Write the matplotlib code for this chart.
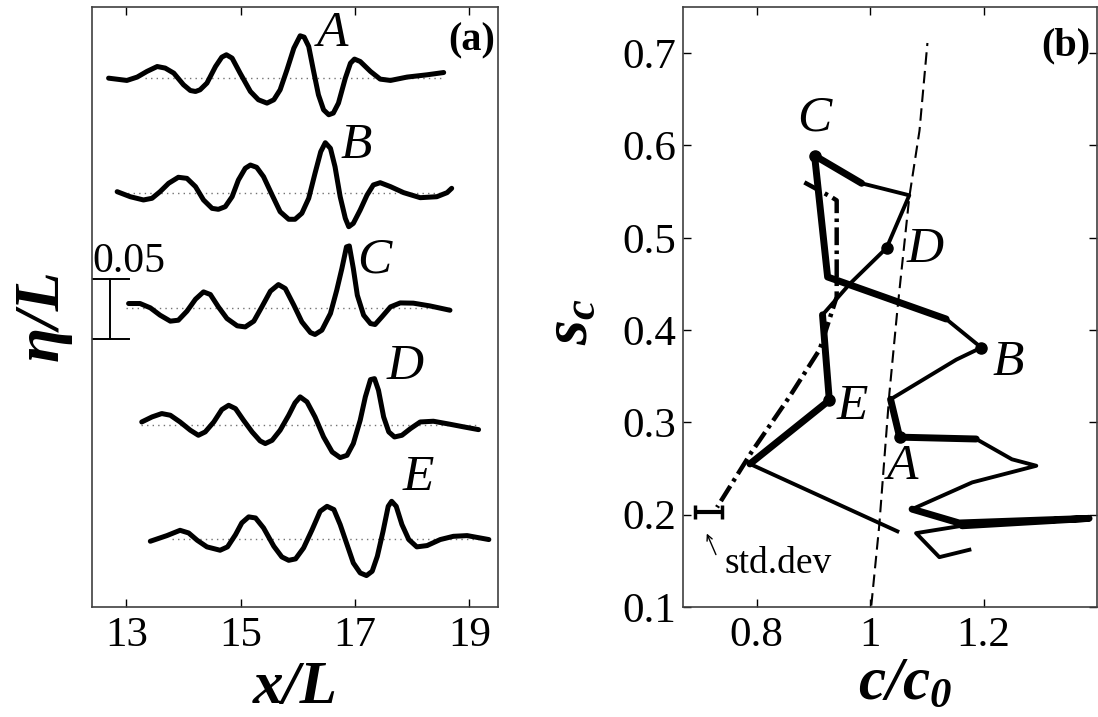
import matplotlib
matplotlib.use("Agg")
import matplotlib.pyplot as plt

plt.rcParams['font.family'] = ['Liberation Serif', 'DejaVu Serif']
plt.rcParams['mathtext.fontset'] = 'custom'
plt.rcParams['mathtext.rm'] = 'Liberation Serif'
plt.rcParams['mathtext.it'] = 'Liberation Serif:italic'
plt.rcParams['mathtext.bf'] = 'Liberation Serif:bold'
plt.rcParams['mathtext.bfit'] = 'Liberation Serif:italic:bold'

# ---- panel (a): wave profiles, eta/L vs x/L, stacked with offsets ----
a_x = [12.69, 13.01, 13.19, 13.36, 13.54, 13.68, 13.83, 14.00, 14.12, 14.21, 14.29, 14.41, 14.56,
       14.67, 14.75, 14.85, 14.99, 15.17, 15.31, 15.46, 15.58, 15.69, 15.81, 15.93, 16.04, 16.11,
       16.19, 16.27, 16.36, 16.45, 16.54, 16.62, 16.71, 16.83, 16.92, 16.99, 17.09, 17.27, 17.44,
       17.62, 17.91, 18.26, 18.55]
a_eta = [-0.0003, -0.0022, 0.0006, 0.0053, 0.0094, 0.0081, 0.0039, -0.0058, -0.0106, -0.0114,
         -0.0100, -0.0044, 0.0094, 0.0172, 0.0192, 0.0164, 0.0039, -0.0114, -0.0183, -0.0211,
         -0.0183, -0.0100, 0.0067, 0.0247, 0.0350, 0.0339, 0.0261, 0.0067, -0.0142, -0.0267,
         -0.0308, -0.0294, -0.0211, -0.0003, 0.0122, 0.0156, 0.0136, 0.0053, -0.0011, -0.0022,
         0.0006, 0.0025, 0.0044]

b_x = [12.84, 13.07, 13.30, 13.45, 13.59, 13.74, 13.91, 14.06, 14.21, 14.35, 14.50, 14.61, 14.73,
       14.85, 14.96, 15.08, 15.17, 15.28, 15.40, 15.55, 15.69, 15.84, 15.95, 16.07, 16.19, 16.30,
       16.40, 16.48, 16.57, 16.65, 16.74, 16.83, 16.89, 16.97, 17.09, 17.21, 17.32, 17.44, 17.62,
       17.85, 18.14, 18.43, 18.61, 18.69]
b_eta = [0.0011, -0.0031, -0.0058, -0.0044, 0.0011, 0.0081, 0.0131, 0.0122, 0.0053, -0.0058,
         -0.0128, -0.0136, -0.0114, -0.0031, 0.0108, 0.0206, 0.0233, 0.0214, 0.0136, -0.0017,
         -0.0156, -0.0219, -0.0219, -0.0169, -0.0044, 0.0164, 0.0344, 0.0419, 0.0372, 0.0219,
         -0.0031, -0.0211, -0.0281, -0.0253, -0.0142, -0.0017, 0.0067, 0.0086, 0.0053, 0.0003,
         -0.0039, -0.0031, 0.0003, 0.0039]

c_x = [13.04, 13.24, 13.42, 13.59, 13.77, 13.91, 14.06, 14.21, 14.35, 14.47, 14.61, 14.76, 14.94,
       15.08, 15.23, 15.37, 15.52, 15.66, 15.78, 15.93, 16.07, 16.22, 16.30, 16.42, 16.57, 16.68,
       16.77, 16.85, 16.90, 16.97, 17.04, 17.15, 17.27, 17.35, 17.47, 17.62, 17.79, 18.02, 18.31,
       18.66]
c_eta = [0.0039, 0.0039, 0.0003, -0.0058, -0.0108, -0.0100, -0.0025, 0.0075, 0.0136, 0.0114,
         0.0011, -0.0086, -0.0147, -0.0156, -0.0108, 0.0011, 0.0142, 0.0197, 0.0164, 0.0025,
         -0.0114, -0.0203, -0.0219, -0.0183, -0.0044, 0.0150, 0.0331, 0.0511, 0.0519, 0.0331,
         0.0108, -0.0058, -0.0128, -0.0136, -0.0072, 0.0011, 0.0044, 0.0042, 0.0019, -0.0017]

d_x = [13.27, 13.45, 13.62, 13.77, 13.94, 14.12, 14.26, 14.38, 14.53, 14.67, 14.79, 14.91, 15.05,
       15.20, 15.34, 15.43, 15.55, 15.69, 15.84, 15.95, 16.04, 16.16, 16.30, 16.45, 16.60, 16.74,
       16.86, 16.97, 17.09, 17.18, 17.27, 17.34, 17.41, 17.50, 17.59, 17.69, 17.82, 17.97, 18.14,
       18.37, 18.66, 18.90, 19.16]
d_eta = [0.0022, 0.0064, 0.0092, 0.0078, 0.0022, -0.0047, -0.0089, -0.0061, 0.0022, 0.0125,
         0.0161, 0.0133, 0.0036, -0.0061, -0.0136, -0.0158, -0.0131, -0.0047, 0.0078, 0.0181,
         0.0231, 0.0189, 0.0064, -0.0103, -0.0228, -0.0275, -0.0256, -0.0158, 0.0036, 0.0231,
         0.0375, 0.0383, 0.0286, 0.0064, -0.0061, -0.0103, -0.0089, -0.0033, 0.0022, 0.0028,
         0.0003, -0.0019, -0.0042]

e_x = [13.42, 13.71, 13.94, 14.09, 14.24, 14.41, 14.64, 14.77, 14.91, 15.02, 15.14, 15.26, 15.40,
       15.58, 15.72, 15.84, 15.96, 16.10, 16.25, 16.39, 16.51, 16.63, 16.74, 16.86, 16.97, 17.09,
       17.20, 17.30, 17.39, 17.49, 17.58, 17.64, 17.72, 17.82, 17.94, 18.08, 18.26, 18.49, 18.72,
       18.96, 19.34]
e_eta = [-0.0022, 0.0025, 0.0069, 0.0047, -0.0014, -0.0069, -0.0097, -0.0069, 0.0033, 0.0131,
         0.0181, 0.0172, 0.0089, -0.0064, -0.0153, -0.0181, -0.0169, -0.0078, 0.0075, 0.0228,
         0.0269, 0.0242, 0.0117, -0.0050, -0.0203, -0.0286, -0.0308, -0.0272, -0.0147, 0.0061,
         0.0269, 0.0311, 0.0269, 0.0117, -0.0008, -0.0069, -0.0058, -0.0008, 0.0019, 0.0025,
         -0.0008]

wave_names = ['A', 'B', 'C', 'D', 'E']
wave_offsets = [0.441, 0.345, 0.249, 0.152, 0.057]
baseline_start = [13.33, 12.93, 13.00, 13.26, 13.80]
baseline_end = [18.54, 18.49, 18.66, 19.15, 19.30]
name_x = [16.34, 16.74, 17.04, 17.56, 17.83]
name_y = [0.4775, 0.384, 0.289, 0.200, 0.1075]

# ---- panel (b): s_c vs c/c0 ----
path_c = [1.175, 1.122, 1.081, 1.162, 1.386, 1.157, 1.074, 1.180, 1.293, 1.250, 1.187, 1.052, 1.036,
          1.152, 1.196, 1.134, 0.925, 0.902, 0.985, 1.069, 1.029, 0.964, 0.916, 0.928, 0.788, 1.048]
path_s = [0.162, 0.154, 0.180, 0.188, 0.196, 0.191, 0.206, 0.235, 0.253, 0.260, 0.282, 0.284, 0.325,
          0.368, 0.381, 0.412, 0.4575, 0.589, 0.559, 0.546, 0.489, 0.450, 0.4165, 0.324, 0.255, 0.182]
thick_parts = [(3, 6), (10, 12), (15, 18), (22, 24)]

dot_c = [1.052, 1.196, 0.902, 1.029, 0.928]
dot_s = [0.284, 0.381, 0.589, 0.489, 0.324]
dot_lab_c = [1.030, 1.215, 0.902, 1.064, 0.941]
dot_lab_s = [0.2515, 0.365, 0.629, 0.487, 0.317]
dot_lab_ha = ['left', 'left', 'center', 'left', 'left']

lin_c = [1.002, 1.016, 1.034, 1.048, 1.069, 1.087, 1.101]
lin_s = [0.1015, 0.188, 0.332, 0.422, 0.544, 0.616, 0.711]

dd_c = [0.884, 0.932, 0.941, 0.941, 0.911, 0.858, 0.791, 0.730]
dd_s = [0.560, 0.544, 0.5405, 0.436, 0.379, 0.328, 0.268, 0.208]

std_c, std_s, std_err = 0.715, 0.203, 0.0235

fig = plt.figure(figsize=(10.98, 7.17), dpi=100)
W, H = 1098.0, 717.0
ax1 = fig.add_axes([92 / W, 1 - 607 / H, (498 - 92) / W, 600 / H])
ax2 = fig.add_axes([683 / W, 1 - 607 / H, (1097 - 683) / W, 600 / H])

waves = [(a_x, a_eta), (b_x, b_eta), (c_x, c_eta), (d_x, d_eta), (e_x, e_eta)]
for i, (wx, we) in enumerate(waves):
    off = wave_offsets[i]
    ax1.plot([baseline_start[i], baseline_end[i]], [off, off], ls=(0, (1, 3)), color='0.45', lw=1.0)
    ax1.plot(wx, [v + off for v in we], color='k', lw=3.6, solid_joinstyle='round',
             solid_capstyle='round')
    ax1.text(name_x[i], name_y[i], wave_names[i], fontsize=37, style='italic', ha='left', va='center')

# scale bar 0.05
ax1.plot([12.72, 12.72], [0.223, 0.273], color='k', lw=1.4)
ax1.plot([12.4, 13.05], [0.273, 0.273], color='k', lw=1.4)
ax1.plot([12.4, 13.05], [0.223, 0.223], color='k', lw=1.4)
ax1.text(12.41, 0.279, '0.05', fontsize=30, ha='left', va='baseline')
ax1.text(19.45, 0.472, '(a)', fontsize=29, fontweight='bold', ha='right', va='center')

ax1.set_xlim(12.4, 19.5)
ax1.set_ylim(0, 0.5)
ax1.set_xticks([13, 15, 17, 19])
ax1.set_yticks([])

# panel b
ax2.plot(lin_c, lin_s, color='k', lw=1.5, dashes=(6, 3))
ax2.plot(dd_c, dd_s, color='k', lw=3.2, dashes=(4, 1.2, 0.8, 1.2))
ax2.plot(path_c, path_s, color='k', lw=2.8, solid_joinstyle='round')
for i0, i1 in thick_parts:
    ax2.plot(path_c[i0:i1 + 1], path_s[i0:i1 + 1], color='k', lw=5, solid_joinstyle='round',
             solid_capstyle='round')
ax2.plot(dot_c, dot_s, 'o', color='k', ms=8)
for i in range(5):
    ax2.text(dot_lab_c[i], dot_lab_s[i], wave_names[i], fontsize=37, style='italic',
             ha=dot_lab_ha[i], va='center')

ax2.errorbar([std_c], [std_s], xerr=[std_err], color='k', lw=3, capsize=5, capthick=2.5)
ax2.annotate('', xy=(0.710, 0.1824), xytext=(0.730, 0.154),
             arrowprops=dict(arrowstyle='->', lw=1, color='k'))
ax2.text(0.744, 0.147, 'std.dev', fontsize=27, ha='left', va='center')
ax2.text(1.389, 0.708, '(b)', fontsize=29, fontweight='bold', ha='right', va='center')

ax2.set_xlim(0.67, 1.40)
ax2.set_ylim(0.1, 0.75)
ax2.set_xticks([0.8, 1.0, 1.2])
ax2.set_xticklabels(['0.8', '1', '1.2'])
ax2.set_yticks([0.1, 0.2, 0.3, 0.4, 0.5, 0.6, 0.7])

for ax in (ax1, ax2):
    ax.tick_params(direction='in', top=True, right=True, length=6, width=1, labelsize=31, pad=7)
    for sp in ax.spines.values():
        sp.set_linewidth(1.2)
        sp.set_color('0.25')
ax2.tick_params(axis='y', pad=5)

fig.text(43 / W, 1 - 315 / H, 'η/L', fontsize=46, fontweight='bold', style='italic',
         rotation=90, ha='center', va='center')
fig.text(295 / W, 1 - 688 / H, 'x/L', fontsize=44, fontweight='bold', style='italic',
         ha='center', va='center')
fig.text(905 / W, 1 - 684 / H, r'$\mathbfit{c/c}_{\mathbfit{0}}$', fontsize=44,
         ha='center', va='center')
fig.text(572 / W, 1 - 322 / H, r'$\mathbfit{s}_{\mathbfit{c}}$', fontsize=46, rotation=90,
         ha='center', va='center')

fig.savefig('out.png', dpi=100)
